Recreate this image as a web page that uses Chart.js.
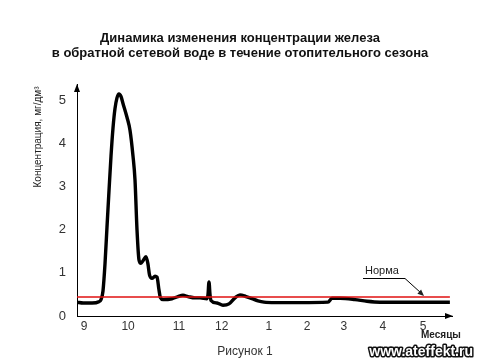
<!DOCTYPE html>
<html>
<head>
<meta charset="utf-8">
<script src="https://cdn.jsdelivr.net/npm/chart.js@4"></script>
<style>
  html, body { margin: 0; padding: 0; background: #fff; }
  #wrap { width: 478px; height: 361px; }
</style>
</head>
<body>
<div id="wrap"><canvas id="c" width="478" height="361"></canvas></div>
<script>
// ---- data ----
const chartTitle = ['Динамика изменения концентрации железа', 'в обратной сетевой воде в течение отопительного сезона'];
const yAxisTitle = 'Концентрация, мг/дм³';
const xAxisTitle = 'Месяцы';
const figureCaption = 'Рисунок 1';
const normLabel = 'Норма';
const watermark = 'www.ateffekt.ru';

const monthLabels = ['9', '10', '11', '12', '1', '2', '3', '4', '5'];
const monthTickPos = [0, 1.04, 2.24, 3.25, 4.36, 5.26, 6.13, 7.05, 8.0];
const yTickValues = [0, 1, 2, 3, 4, 5];

// time in months from the "9" tick, and iron concentration (mg/dm3)
const timeMonths = [-0.165, -0.02, 0.19, 0.35, 0.401, 0.448, 0.495, 0.542, 0.59, 0.637, 0.684, 0.731, 0.778, 0.825, 0.873, 0.92, 1.014, 1.085, 1.156, 1.203, 1.25, 1.297, 1.344, 1.392, 1.462, 1.509, 1.545, 1.604, 1.675, 1.722, 1.769, 1.804, 1.863, 2.075, 2.217, 2.335, 2.453, 2.618, 2.736, 2.901, 2.925, 2.948, 2.972, 2.995, 3.137, 3.278, 3.42, 3.561, 3.679, 3.821, 3.962, 4.104, 4.245, 4.505, 5.094, 5.755, 5.849, 6.038, 6.392, 6.675, 6.981, 8.63];
const ironConc   = [0.32, 0.30, 0.30, 0.33, 0.38, 0.58, 1.2, 2.05, 2.9, 3.7, 4.35, 4.8, 5.05, 5.14, 5.08, 4.92, 4.6, 4.3, 3.7, 3.15, 2.0, 1.3, 1.22, 1.28, 1.37, 1.2, 0.95, 0.87, 0.92, 0.9, 0.6, 0.42, 0.38, 0.40, 0.45, 0.48, 0.45, 0.42, 0.42, 0.40, 0.5, 0.79, 0.5, 0.36, 0.30, 0.25, 0.28, 0.42, 0.49, 0.45, 0.40, 0.35, 0.32, 0.31, 0.31, 0.32, 0.41, 0.41, 0.38, 0.34, 0.32, 0.32];
const normValue = 0.44;
const normRange = [-0.165, 8.63];

const xMin = -0.165, xMax = 8.68;
const yMin = 0, yMax = 5.37;

const FONT = '"Liberation Sans", Arial, sans-serif';

const decorPlugin = {
  id: 'decor',
  afterDraw(chart) {
    const ctx = chart.ctx;
    const a = chart.chartArea;
    ctx.save();
    // axis arrowheads
    ctx.fillStyle = '#000';
    ctx.beginPath();
    ctx.moveTo(a.left, a.top);
    ctx.lineTo(a.left - 3, a.top + 8);
    ctx.lineTo(a.left + 3, a.top + 8);
    ctx.closePath();
    ctx.fill();
    ctx.beginPath();
    ctx.moveTo(a.right + 1, a.bottom);
    ctx.lineTo(a.right - 7, a.bottom - 3);
    ctx.lineTo(a.right - 7, a.bottom + 3);
    ctx.closePath();
    ctx.fill();

    // title
    ctx.fillStyle = '#111';
    ctx.textAlign = 'center';
    ctx.textBaseline = 'middle';
    ctx.font = 'bold 13px ' + FONT;
    ctx.fillText(chartTitle[0], 240, 38);
    ctx.fillText(chartTitle[1], 240, 53);

    // y axis title (rotated)
    ctx.save();
    ctx.translate(38, 137);
    ctx.rotate(-Math.PI / 2);
    ctx.font = '10px ' + FONT;
    ctx.fillStyle = '#222';
    ctx.fillText(yAxisTitle, 0, 0);
    ctx.restore();

    // x axis title
    ctx.font = 'bold 10px ' + FONT;
    ctx.fillStyle = '#222';
    ctx.textAlign = 'left';
    ctx.fillText(xAxisTitle, 421, 335);

    // caption
    ctx.font = '12px ' + FONT;
    ctx.textAlign = 'center';
    ctx.fillStyle = '#333';
    ctx.fillText(figureCaption, 245, 352);

    // norm label + leader
    const ys = chart.scales.y;
    const yNorm = ys.getPixelForValue(normValue);
    ctx.font = '11px ' + FONT;
    ctx.fillStyle = '#222';
    ctx.textAlign = 'left';
    ctx.fillText(normLabel, 365, 271);
    ctx.strokeStyle = '#000';
    ctx.lineWidth = 1;
    ctx.beginPath();
    ctx.moveTo(363, 278.5);
    ctx.lineTo(405, 278.5);
    ctx.lineTo(421, yNorm - 4);
    ctx.stroke();
    // arrow head pointing at norm line
    const tx = 424, ty = yNorm - 1;
    const ang = Math.atan2(ty - 278.5, tx - 405);
    ctx.beginPath();
    ctx.moveTo(tx, ty);
    ctx.lineTo(tx - 7 * Math.cos(ang - 0.4), ty - 7 * Math.sin(ang - 0.4));
    ctx.lineTo(tx - 7 * Math.cos(ang + 0.4), ty - 7 * Math.sin(ang + 0.4));
    ctx.closePath();
    ctx.fill();

    // watermark
    ctx.font = 'bold 14px ' + FONT;
    ctx.textAlign = 'right';
    ctx.lineJoin = 'round';
    ctx.lineWidth = 3;
    ctx.strokeStyle = '#111';
    ctx.strokeText(watermark, 473, 352);
    ctx.fillStyle = '#fff';
    ctx.fillText(watermark, 473, 352);
    ctx.restore();
  }
};

new Chart(document.getElementById('c'), {
  type: 'line',
  data: {
    datasets: [
      {
        label: 'Концентрация',
        data: timeMonths.map((t, i) => ({ x: t, y: ironConc[i] })),
        borderColor: '#000',
        borderWidth: 3.4,
        pointRadius: 0,
        cubicInterpolationMode: 'monotone',
        fill: false,
        order: 1
      },
      {
        label: normLabel,
        data: normRange.map(t => ({ x: t, y: normValue })),
        borderColor: '#e01010',
        borderWidth: 1.3,
        pointRadius: 0,
        fill: false,
        order: 0
      }
    ]
  },
  options: {
    responsive: false,
    animation: false,
    devicePixelRatio: 1,
    layout: { padding: { top: 84, right: 26, left: 0, bottom: 0 } },
    plugins: { legend: { display: false }, title: { display: false }, tooltip: { enabled: false } },
    scales: {
      x: {
        type: 'linear',
        min: xMin, max: xMax,
        grid: { display: false, drawTicks: false },
        border: { display: true, color: '#000', width: 1 },
        afterBuildTicks: s => { s.ticks = monthTickPos.map(v => ({ value: v })); },
        afterFit: s => { s.height = 45; },
        ticks: {
          autoSkip: false, maxRotation: 0, padding: 3,
          color: '#333', font: { size: 12, family: FONT },
          callback: (v, i) => monthLabels[i]
        }
      },
      y: {
        min: yMin, max: yMax,
        grid: { display: false, drawTicks: false },
        border: { display: true, color: '#000', width: 1 },
        afterBuildTicks: s => { s.ticks = yTickValues.map(v => ({ value: v })); },
        afterFit: s => { s.width = 77; },
        ticks: {
          padding: 11,
          color: '#333', font: { size: 13, family: FONT }
        }
      }
    }
  },
  plugins: [decorPlugin]
});
</script>
</body>
</html>
